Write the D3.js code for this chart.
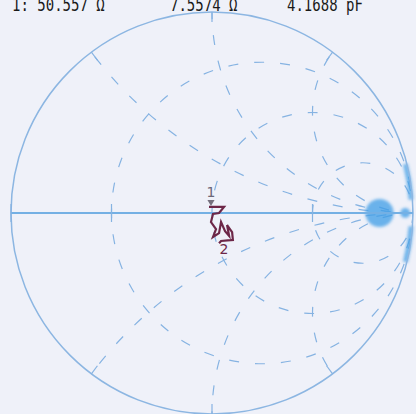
<!DOCTYPE html>
<html>
<head>
<meta charset="utf-8">
<script src="https://d3js.org/d3.v7.min.js"></script>
<style>
  html, body { margin: 0; padding: 0; background: #eff1f9; }
  svg { display: block; }
</style>
</head>
<body>
<svg width="416" height="414"></svg>
<script>
// header readout
var readLabels = ["1: 50.557 \u03a9", "7.5574 \u03a9", "4.1688 pF"];
var readX = [12, 170, 287];

// smith grid (normalised impedance)
var rCircles = [1 / 3, 1, 3];
var xArcs = [0.5, 1, 2, -0.5, -1, -2];
var rDense = [5, 25];
var rimDense = [[8, 30], [-8, -30]];

// measured trace, reflection coefficient (re, im)
var traceRe = [-0.015, 0.060, 0.035, 0.005, -0.005, 0.020, 0.005, 0.035, 0.045, 0.065, 0.085, 0.075, 0.100, 0.104, 0.045, 0.035];
var traceIm = [0.030, 0.030, 0.000, -0.005, -0.045, -0.080, -0.119, -0.100, -0.045, -0.090, -0.114, -0.060, -0.095, -0.134, -0.139, -0.150];
var markerNames = ["1", "2"];

var svg = d3.select("svg");
var cx = 212, cy = 213, R = 201;

var x = d3.scaleLinear().domain([-1, 1]).range([cx - R, cx + R]);
var y = d3.scaleLinear().domain([-1, 1]).range([cy + R, cy - R]);
var len = function (v) { return x(v) - x(0); };

var gridColor = "#86b3e2";

var defs = svg.append("defs");
defs.append("clipPath").attr("id", "unit")
  .append("circle").attr("cx", x(0)).attr("cy", y(0)).attr("r", len(1));
defs.append("filter").attr("id", "soft")
  .attr("x", "-50%").attr("y", "-50%").attr("width", "200%").attr("height", "200%")
  .append("feGaussianBlur").attr("stdDeviation", 1.6);

var grid = svg.append("g").attr("clip-path", "url(#unit)");

// constant resistance circles
grid.selectAll("circle.r").data(rCircles).enter().append("circle")
  .attr("class", "r")
  .attr("cx", function (r) { return x(r / (1 + r)); })
  .attr("cy", y(0))
  .attr("r", function (r) { return len(1 / (1 + r)); })
  .attr("fill", "none").attr("stroke", gridColor)
  .attr("stroke-width", 1.2).attr("stroke-dasharray", "10,16");

// constant reactance arcs
grid.selectAll("circle.x").data(xArcs).enter().append("circle")
  .attr("class", "x")
  .attr("cx", x(1))
  .attr("cy", function (v) { return y(1 / v); })
  .attr("r", function (v) { return len(1 / Math.abs(v)); })
  .attr("fill", "none").attr("stroke", gridColor)
  .attr("stroke-width", 1.2).attr("stroke-dasharray", "10,16");

// crowded region near open circuit, smeared
var dense = svg.append("g").attr("filter", "url(#soft)");
dense.selectAll("circle.rd").data(rDense).enter().append("circle")
  .attr("cx", function (r) { return x(r / (1 + r)); })
  .attr("cy", y(0))
  .attr("r", function (r) { return Math.max(5, len(1 / (1 + r)) * 0.42); })
  .attr("fill", "#3d9ce6").attr("opacity", 0.75);

// rim angle for a pure reactance, in d3.arc convention (0 at top, clockwise)
var rimAngle = function (v) { return Math.PI / 2 - 2 * Math.atan(1 / v); };
dense.selectAll("path.rim").data(rimDense).enter().append("path")
  .attr("transform", "translate(" + x(0) + "," + y(0) + ")")
  .attr("d", function (p) {
    var a = rimAngle(p[0]), b = rimAngle(p[1]);
    return d3.arc()({ innerRadius: len(1) - 4, outerRadius: len(1) + 1,
      startAngle: Math.min(a, b), endAngle: Math.max(a, b) });
  })
  .attr("fill", "#3d9ce6").attr("opacity", 0.7);

// outer circle and real axis
svg.append("circle")
  .attr("cx", x(0)).attr("cy", y(0)).attr("r", len(1))
  .attr("fill", "none").attr("stroke", "#8cb6e2").attr("stroke-width", 1.5);

svg.append("line")
  .attr("x1", x(-1)).attr("x2", x(1)).attr("y1", y(0)).attr("y2", y(0))
  .attr("stroke", "#74b0e4").attr("stroke-width", 1.8);

// ticks where arcs meet the rim
var rimTicks = xArcs.map(function (v) {
  var d = v * v + 1;
  return [(v * v - 1) / d, 2 * v / d];
});
svg.selectAll("line.rimtick").data(rimTicks).enter().append("line")
  .attr("x1", function (p) { return x(p[0]); })
  .attr("y1", function (p) { return y(p[1]); })
  .attr("x2", function (p) { return x(p[0] * 0.95); })
  .attr("y2", function (p) { return y(p[1] * 0.95); })
  .attr("stroke", gridColor).attr("stroke-width", 1.2);

// ticks where circles cross the axis
var axisTicks = [0].concat(rCircles.filter(function (r) { return r !== 1; }));
svg.selectAll("line.ax").data(axisTicks).enter().append("line")
  .attr("x1", function (r) { return x((r - 1) / (r + 1)); })
  .attr("x2", function (r) { return x((r - 1) / (r + 1)); })
  .attr("y1", y(0) - 9).attr("y2", y(0) + 9)
  .attr("stroke", gridColor).attr("stroke-width", 1.2);

// trace
var trace = traceRe.map(function (re, i) { return [re, traceIm[i]]; });
var line = d3.line().x(function (d) { return x(d[0]); }).y(function (d) { return y(d[1]); });
svg.append("path").datum(trace)
  .attr("d", line)
  .attr("fill", "none").attr("stroke", "#6d2748").attr("stroke-width", 2.2);

var ends = [trace[0], trace[trace.length - 1]];
svg.append("path")
  .attr("d", d3.symbol().type(d3.symbolTriangle).size(22))
  .attr("transform", "translate(" + x(ends[0][0] + 0.01) + "," + (y(ends[0][1]) - 5) + ") rotate(180)")
  .attr("fill", "#75707e");

svg.selectAll("text.mk").data(markerNames).enter().append("text")
  .attr("x", function (d, i) { return i === 0 ? x(ends[0][0] + 0.01) : x(ends[1][0]) + 5; })
  .attr("y", function (d, i) { return i === 0 ? y(ends[0][1]) - 10 : y(ends[1][1]) + 11; })
  .attr("text-anchor", "middle")
  .attr("font-family", "DejaVu Sans")
  .attr("font-size", 14)
  .attr("fill", function (d, i) { return i === 0 ? "#6c6878" : "#6d2748"; })
  .text(function (d) { return d; });

// header
svg.selectAll("text.hdr").data(readLabels).enter().append("text")
  .attr("x", function (d, i) { return readX[i]; })
  .attr("y", 11)
  .attr("font-family", "DejaVu Sans Mono")
  .attr("font-size", 17)
  .attr("textLength", function (d) { return d.length * 8.43; })
  .attr("lengthAdjust", "spacingAndGlyphs")
  .attr("fill", "#1a1a1a")
  .text(function (d) { return d; });
</script>
</body>
</html>
